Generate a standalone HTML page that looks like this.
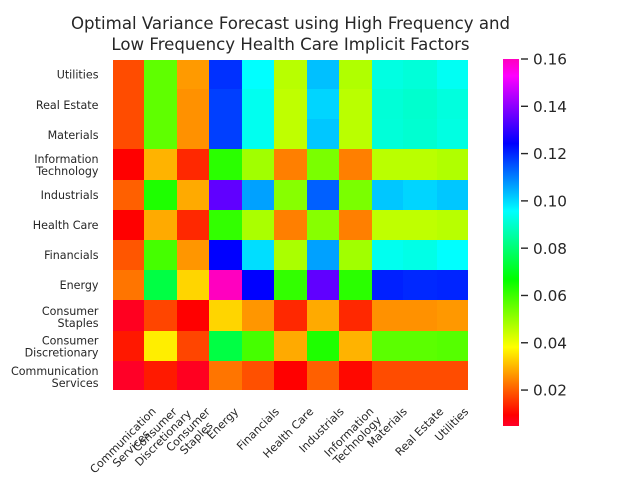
<!DOCTYPE html>
<html>
<head>
<meta charset="utf-8">
<title>Optimal Variance Forecast Heatmap</title>
<style>
html,body{margin:0;padding:0;background:#fff;width:640px;height:480px;overflow:hidden}
svg{display:block}
text{font-family:"DejaVu Sans","Liberation Sans",sans-serif;fill:#262626}
</style>
</head>
<body>
<svg id="chart" width="640" height="480" viewBox="0 0 640 480" xmlns="http://www.w3.org/2000/svg">
<g>
<text x="290.5" y="29" text-anchor="middle" font-size="16.6">Optimal Variance Forecast using High Frequency and</text>
<text x="290.5" y="50" text-anchor="middle" font-size="16.6">Low Frequency Health Care Implicit Factors</text>
</g>
</svg>
<script>
const colLabels = [["Communication","Services"],["Consumer","Discretionary"],["Consumer","Staples"],["Energy"],["Financials"],["Health Care"],["Industrials"],["Information","Technology"],["Materials"],["Real Estate"],["Utilities"]];
const rowLabels = [["Utilities"],["Real Estate"],["Materials"],["Information","Technology"],["Industrials"],["Health Care"],["Financials"],["Energy"],["Consumer","Staples"],["Consumer","Discretionary"],["Communication","Services"]];
const rowUtilities   = [0.0180,0.0562,0.0268,0.1189,0.0957,0.0462,0.1028,0.0471,0.0925,0.0915,0.0945];
const rowRealEstate  = [0.0180,0.0562,0.0258,0.1172,0.0940,0.0454,0.1005,0.0459,0.0912,0.0902,0.0920];
const rowMaterials   = [0.0180,0.0562,0.0258,0.1172,0.0940,0.0454,0.1020,0.0459,0.0915,0.0905,0.0925];
const rowInfoTech    = [0.0095,0.0296,0.0140,0.0622,0.0488,0.0238,0.0531,0.0238,0.0459,0.0459,0.0471];
const rowIndustrials = [0.0203,0.0635,0.0286,0.1351,0.1063,0.0517,0.1135,0.0531,0.1020,0.1005,0.1020];
const rowHealthCare  = [0.0095,0.0286,0.0140,0.0612,0.0477,0.0238,0.0517,0.0238,0.0454,0.0454,0.0462];
const rowFinancials  = [0.0191,0.0591,0.0263,0.1243,0.0994,0.0477,0.1063,0.0488,0.0940,0.0930,0.0957];
const rowEnergy      = [0.0226,0.0746,0.0334,0.1600,0.1243,0.0612,0.1351,0.0622,0.1207,0.1198,0.1203];
const rowStaples     = [0.0058,0.0172,0.0095,0.0334,0.0263,0.0140,0.0286,0.0140,0.0258,0.0258,0.0266];
const rowDiscretion  = [0.0122,0.0363,0.0172,0.0746,0.0591,0.0286,0.0635,0.0296,0.0566,0.0566,0.0573];
const rowCommServ    = [0.0050,0.0124,0.0058,0.0226,0.0185,0.0095,0.0203,0.0104,0.0180,0.0180,0.0180];
const matrix = [rowUtilities,rowRealEstate,rowMaterials,rowInfoTech,rowIndustrials,rowHealthCare,rowFinancials,rowEnergy,rowStaples,rowDiscretion,rowCommServ];
const colorbarTicks = [0.02,0.04,0.06,0.08,0.10,0.12,0.14,0.16];
const vmin = 0.0048;
const vmax = 0.16;

const svg = document.getElementById('chart');
const NS = 'http://www.w3.org/2000/svg';
const plot = {left:113, right:468, top:60, bottom:390};
const bar = {left:503, right:519, top:59, bottom:426};

function mk(tag, attrs, parent){
  const e = document.createElementNS(NS, tag);
  for (const k in attrs) e.setAttribute(k, attrs[k]);
  (parent || svg).appendChild(e);
  return e;
}
/* image resampling in the source shifts some cell edges by a pixel */
function xEdge(i){
  const shift = [0,-1,-1,-1,0,0,0,0,1,0,1,0];
  return Math.round(plot.left + i * (plot.right - plot.left) / colLabels.length) + (shift[i] || 0);
}
function yEdge(j){
  const shift = [0,-1,-1,-1,0,0,0,0,0,1,1,0];
  return Math.round(plot.top + j * (plot.bottom - plot.top) / rowLabels.length) + (shift[j] || 0);
}
function barY(v){ return bar.bottom - (v - vmin) / (vmax - vmin) * (bar.bottom - bar.top); }

/* gist_rainbow colormap */
function cmap(t){
  const s = [[0,1,0,0.16],[0.03,1,0,0],[0.215,1,1,0],[0.4,0,1,0],[0.586,0,1,1],[0.77,0,0,1],[0.954,1,0,1],[1,1,0,0.75]];
  t = Math.max(0, Math.min(1, t));
  for (let i = 1; i < s.length; i++){
    if (t <= s[i][0]){
      const f = (t - s[i-1][0]) / (s[i][0] - s[i-1][0]);
      const c = [1,2,3].map(function(k){ return Math.round(255 * (s[i-1][k] + f * (s[i][k] - s[i-1][k]))); });
      return 'rgb(' + c.join(',') + ')';
    }
  }
  return 'rgb(255,0,191)';
}

/* heatmap cells */
const cellGroup = mk('g', {'shape-rendering':'crispEdges'});


matrix.forEach(function(row, j){
  row.forEach(function(v, i){
    const r = mk('rect', {x:xEdge(i), y:yEdge(j), width:xEdge(i+1)-xEdge(i), height:yEdge(j+1)-yEdge(j), fill:cmap((v-vmin)/(vmax-vmin))}, cellGroup);
    
    
  });
});

/* y tick labels */
const yGroup = mk('g', {});


rowLabels.forEach(function(lines, j){
  const nudge = [-0.5,0,0,0,0,0,0,0,2,1.5,2][j];
  const cy = plot.top + (j + 0.5) * (plot.bottom - plot.top) / rowLabels.length + nudge;
  const lh = 11.6;
  lines.forEach(function(line, k){
    const t = mk('text', {x:98.5, y:cy + 4 + (k - (lines.length-1)/2) * lh, 'text-anchor':'end', 'font-size':11.11}, yGroup);
    
    
    t.textContent = line;
  });
});

/* x tick labels, rotated 45 degrees; bounding box centred on the tick */
const xGroup = mk('g', {});


colLabels.forEach(function(lines, i){
  const g = mk('g', {}, xGroup);
  
  
  lines.forEach(function(line, k){
    const t = mk('text', {x:0, y:(k - (lines.length-1)/2) * 11.6 + 4, 'text-anchor':'middle', 'font-size':11.11, transform:'rotate(-45)'}, g);
    t.textContent = line;
  });
  const b = g.getBoundingClientRect();
  const sr = svg.getBoundingClientRect();
  const cx = plot.left + (i + 0.5) * (plot.right - plot.left) / colLabels.length;
  const nudgeX = [-6,1,-4,-3,0,-2,-1,-2,0,0,0][i];
  const dx = cx + nudgeX - ((b.left + b.right) / 2 - sr.left);
  const dy = 405 - (b.top - sr.top);
  g.setAttribute('transform', 'translate(' + dx + ',' + dy + ')');
});

/* colorbar */
const defs = mk('defs', {});
const grad = mk('linearGradient', {id:'cbar-gradient', x1:0, y1:1, x2:0, y2:0}, defs);
[0,0.03,0.215,0.4,0.586,0.77,0.954,1].forEach(function(p){
  mk('stop', {offset:p, 'stop-color':cmap(p)}, grad);
});
const cbar = mk('rect', {x:bar.left, y:bar.top, width:bar.right-bar.left, height:bar.bottom-bar.top, fill:'url(#cbar-gradient)'});



const cbGroup = mk('g', {});


colorbarTicks.forEach(function(v){
  const y = barY(v);
  const l = mk('line', {x1:521, x2:528, y1:y, y2:y, stroke:'#262626', 'stroke-width':1.4}, cbGroup);
  
  
  const t = mk('text', {x:533, y:y + 5.6, 'font-size':15.28}, cbGroup);
  
  
  t.textContent = v.toFixed(2);
});
</script>
</body>
</html>
